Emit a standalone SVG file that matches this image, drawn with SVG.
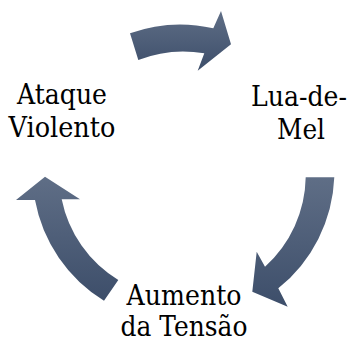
<svg xmlns="http://www.w3.org/2000/svg" width="353" height="342" viewBox="0 0 353 342">
  <style>
    .arr { fill: url(#ag); stroke: none; }
    text { font-family: "DejaVu Serif", "Liberation Serif", serif; font-size: 28px; fill: #000; text-anchor: middle; }
  </style>
  <defs>
    <linearGradient id="ag" x1="0" y1="0" x2="0" y2="1">
      <stop offset="0" stop-color="#5f6e86"/>
      <stop offset="1" stop-color="#3d4e6a"/>
    </linearGradient>
  </defs>
  <rect width="353" height="342" fill="#ffffff"/>
  <g id="connectors">
    <path id="arrow-top" class="arr" d="M130,33.3 A150,150 0 0 1 213.3,28.3 L221,11 L231,44.3 L197.7,70.7 L204.3,53.3 A123,123 0 0 0 138.3,60 Z"/>
    <path id="arrow-right" class="arr" d="M334.3,177.3 A150,150 0 0 1 278.3,288.3 L287.7,306.7 L252.3,291.7 L256.7,251.7 L265,266.7 A123,123 0 0 0 305.7,177.3 Z"/>
    <path id="arrow-left" class="arr" d="M104,300.7 A150,150 0 0 1 35,200 L16,200 L45,176.7 L80,199.3 L61.7,199.3 A123,123 0 0 0 118.3,280 Z"/>
  </g>
  <g id="node-ataque">
    <text x="62" y="104" textLength="90" lengthAdjust="spacingAndGlyphs">Ataque</text>
    <text x="62" y="137" textLength="107" lengthAdjust="spacingAndGlyphs">Violento</text>
  </g>
  <g id="node-lua">
    <text x="299" y="106" style="font-size:27px" textLength="96" lengthAdjust="spacingAndGlyphs">Lua-de-</text>
    <text x="301" y="139" textLength="48" lengthAdjust="spacingAndGlyphs">Mel</text>
  </g>
  <g id="node-aumento">
    <text x="184" y="305" textLength="115" lengthAdjust="spacingAndGlyphs">Aumento</text>
    <text x="184" y="336" textLength="127" lengthAdjust="spacingAndGlyphs">da Tensão</text>
  </g>
</svg>
